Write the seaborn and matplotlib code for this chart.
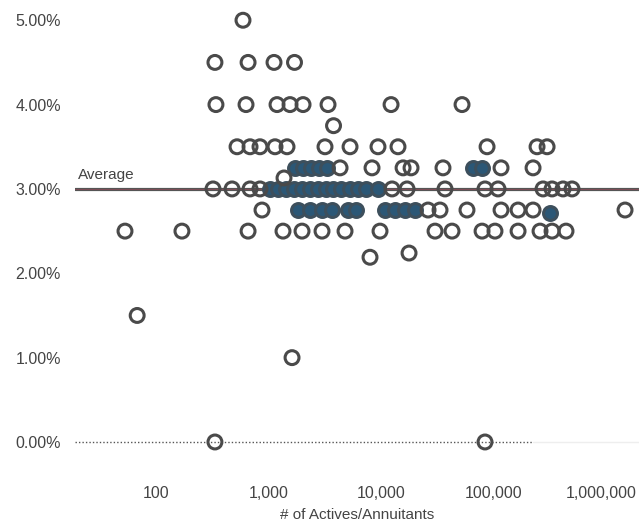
import numpy as np
import pandas as pd
import matplotlib
matplotlib.use("Agg")
import matplotlib.pyplot as plt
import matplotlib.transforms as mtransforms
import seaborn as sns
from matplotlib.ticker import NullLocator

# ---- data: assumed rate (%) by number of actives/annuitants ----
# open (white) markers
open_500 = [593]
open_450 = [334, 658, 1119, 1702]
open_400 = [341, 631, 1190, 1553, 2027, 3380, 12277, 52480]
open_375 = [3783]
open_350 = [525, 685, 840, 1142, 1460, 3177, 5303, 9397, 14150, 87580, 243600, 299200]
open_325 = [4324, 8316, 15700, 18480, 35540, 116600, 224500]
open_313 = [1373]
open_300 = [321, 474, 685, 840, 12530, 17030, 37040, 83960, 109600, 275400, 331100, 414600, 498500]
open_275 = [875, 26180, 33450, 58080, 116600, 165200, 224500, 1475000]
open_250 = [53, 170, 658, 1345, 1985, 2989, 4786, 9795, 30200, 42760, 79060, 103000,
            165200, 259000, 331100, 440700]
open_224 = [17740]
open_219 = [7981]
open_150 = [68]
open_100 = [1618]
open_000 = [334, 83960]

# dense (dark-filled) markers
dense_325 = [1702, 2027, 2390, 2830, 3311, 65710, 79060]
dense_300 = [1031, 1214, 1430, 1690, 1985, 2339, 2760, 3240, 3780, 4420, 5303, 6250, 7380, 9400]
dense_275 = [1829, 2339, 2989, 3667, 5093, 5995, 10861, 13314, 16340, 20050]
dense_272 = [318000]

average_rate = 3.0
zero_line_end = 225000

x_ticks = [100, 1000, 10000, 100000, 1000000]
x_tick_labels = ["100", "1,000", "10,000", "100,000", "1,000,000"]
y_ticks = [0, 1, 2, 3, 4, 5]
y_tick_labels = ["0.00%", "1.00%", "2.00%", "3.00%", "4.00%", "5.00%"]


def build(groups):
    rows = []
    for rate, vals in groups:
        for v in vals:
            rows.append({"members": v, "rate": rate})
    return pd.DataFrame(rows)


open_df = build([(5.00, open_500), (4.50, open_450), (4.00, open_400), (3.75, open_375),
                 (3.50, open_350), (3.25, open_325), (3.13, open_313), (3.00, open_300),
                 (2.75, open_275), (2.50, open_250), (2.24, open_224), (2.19, open_219),
                 (1.50, open_150), (1.00, open_100), (0.00, open_000)])
dense_df = build([(3.25, dense_325), (3.00, dense_300), (2.75, dense_275), (2.72, dense_272)])

sns.set_theme(style="white")
plt.rcParams["font.family"] = ["Liberation Sans", "DejaVu Sans"]

fig = plt.figure(figsize=(6.39, 5.29), dpi=100)
ax = fig.add_axes([75 / 639, 58 / 529, 564 / 639, 471 / 529])
ax.set_xscale("log")
ax.set_xlim(19.05, 1.963e6)
ax.set_ylim(-0.344, 5.24)

# reference lines
ax.axhline(average_rate, color="#555555", lw=2.3, zorder=1)
ax.axhline(average_rate, color="#9a4a5a", lw=0.6, alpha=0.7, zorder=1.5)
ax.plot([19.05, zero_line_end], [0, 0], ls=(0, (1, 1.5)), color="#555555", lw=1.0, zorder=1)
ax.plot([zero_line_end, 1.963e6], [0, 0], color="#eeeeee", lw=1.0, zorder=0.5)

sns.scatterplot(data=dense_df, x="members", y="rate", ax=ax, s=100, marker="o",
                facecolor="#2b5776", edgecolor="#3d4f5c", linewidth=2.2, zorder=3)
sns.scatterplot(data=open_df, x="members", y="rate", ax=ax, s=100, marker="o",
                facecolor="none", edgecolor="#4a4a4a", linewidth=2.2, zorder=4)

ax.annotate("Average", xy=(0.005, 3.17), xycoords=("axes fraction", "data"),
            fontsize=11, color="#444444", va="center", ha="left")

ax.set_xticks(x_ticks)
ax.set_xticklabels(x_tick_labels)
ax.xaxis.set_minor_locator(NullLocator())
ax.set_yticks(y_ticks)
ax.set_yticklabels(y_tick_labels)
ax.tick_params(axis="both", length=0, labelsize=11.5, labelcolor="#444444")
ax.tick_params(axis="y", pad=10)
ax.tick_params(axis="x", pad=11)
ax.set_xlabel("# of Actives/Annuitants", fontsize=11, color="#444444", labelpad=5)
ax.set_ylabel("")
sns.despine(ax=ax, left=True, bottom=True)
ax.grid(False)

# keep the last x tick label inside the figure
last = ax.get_xticklabels()[-1]
last.set_transform(last.get_transform() +
                   mtransforms.ScaledTranslation(-5 / 100, 0, fig.dpi_scale_trans))

fig.savefig("out.png", dpi=100)
